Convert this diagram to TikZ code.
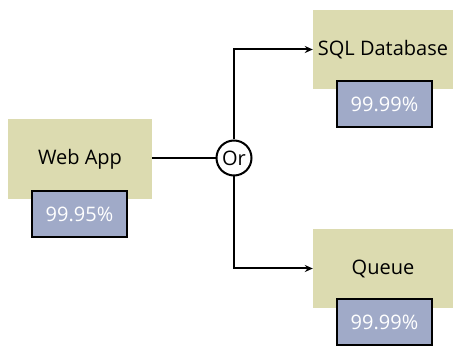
\documentclass[tikz,border=0pt]{standalone}
\usepackage{fontspec}
\setmainfont{Open Sans}
\usetikzlibrary{arrows.meta, positioning}
\definecolor{svcfill}{RGB}{220,219,176}
\definecolor{slafill}{RGB}{160,170,200}
\tikzset{
  servicebox/.style = {fill=svcfill, draw=none},
  slabox/.style     = {draw=black, line width=2pt, fill=slafill, text=white},
}
\begin{document}
\begin{tikzpicture}[
    x=1pt, y=-1pt,
    >={Stealth[length=8pt, width=7pt]},
    every node/.style ={font=\fontsize{20}{24}\selectfont},
    service/.style={servicebox, inner sep=0pt, minimum width=140pt, minimum height=79pt},
    sla/.style    ={slabox, inner sep=0pt, minimum width=95pt, minimum height=46pt},
    gate/.style   ={circle, draw=black, line width=2pt, fill=white,
                    inner sep=0pt, minimum size=35pt},
    flow/.style   ={line width=2pt, draw=black}
  ]
  \useasboundingbox (0,0) rectangle (453,347);

  %% --- Calling service ------------------------------------------------
  \node[service, minimum width=144pt, minimum height=80pt] (web) at (80,159.5) {Web App};
  \node[sla] (websla) at (79.5,214) {99.95\%};

  %% --- Or gate ----------------------------------------------------------
  \node[gate] (or) at (234,158) {Or};

  %% --- Dependencies ---------------------------------------------------
  \node[service] (sql) at (383,49.5) {SQL Database};
  \node[sla] (sqlsla) at (384.5,104.5) {99.99\%};
  \node[service] (queue) at (383,268.5) {Queue};
  \node[sla] (queuesla) at (384.5,322.5) {99.99\%};

  %% --- Connectors -----------------------------------------------------
  \draw[flow] (web.east |- or) -- (or);
  \draw[flow, ->] (or) |- (sql);
  \draw[flow, ->] (or) |- (queue);
\end{tikzpicture}
\end{document}
